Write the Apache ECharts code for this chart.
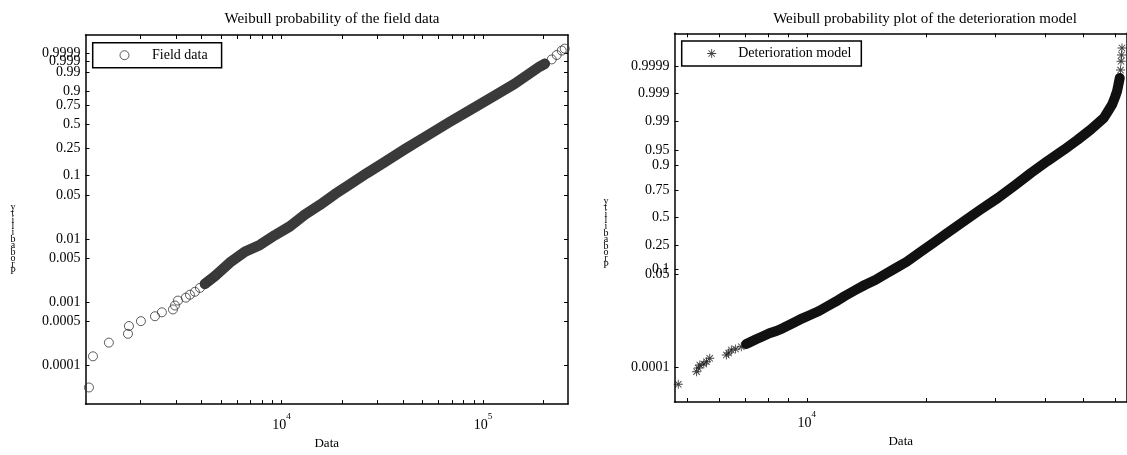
<!DOCTYPE html>
<html><head><meta charset="utf-8">
<script src="https://cdn.jsdelivr.net/npm/echarts@6/dist/echarts.min.js"></script>
<style>html,body{margin:0;padding:0;background:#fff}#c{width:1127px;height:455px}</style>
</head><body><div id="c"></div>
<script>
// ---------- texts ----------
const leftTitle = 'Weibull probability of the field data';
const rightTitle = 'Weibull probability plot of the deterioration model';
const xName = 'Data';
const yName = 'Probability';
const leftLegend = 'Field data';
const rightLegend = 'Deterioration model';

// ---------- left plot (Weibull probability scale) ----------
// listed from the middle outwards so that both crowded labels at the top stay visible
const leftTickLabels = ['0.5','0.75','0.9','0.99','0.999','0.9999','0.0001','0.0005','0.001','0.005','0.01','0.05','0.1','0.25'];
const leftXTicks = [2000,3000,4000,5000,6000,7000,8000,9000,10000,20000,30000,40000,50000,60000,70000,80000,90000,100000,200000];
const leftXLabels = [10000,100000];
// sparse circles (data value, probability)
const fieldX = [1107,1159,1390,1729,1748,2005,2353,2548,2891,2958,3059,3351,3509,3715,3934,4164,4410,4668,202400,219200,232100,245700,254300];
const fieldP = [0.000044,0.000138,0.000228,0.000315,0.000419,0.000501,0.000600,0.000693,0.00077,0.00089,0.001065,0.001186,0.00132,0.00147,0.001696,0.00196,0.00226,0.00261,0.99817,0.99939,0.999833,0.999964,0.999983];
// dense run of overlapping circles
const fieldBandX = [4164,4668,5540,6577,7807,9265,10996,13050,15488,18382,21820,26500,32540,40890,52560,68380,85900,111700,143600,191100,202400];
const fieldBandP = [0.00196,0.00261,0.00429,0.00636,0.00817,0.01166,0.01606,0.02459,0.03498,0.05144,0.07277,0.1078,0.1582,0.2401,0.361,0.527,0.683,0.847,0.9515,0.99665,0.99817];

// ---------- right plot (scale as drawn in the figure) ----------
const rightTickLabels = ['0.5','0.75','0.9','0.95','0.99','0.999','0.9999','0.0001','0.05','0.1','0.25'];
const rightTickValues = [-3.522,-2.469,-1.518,-0.948,0.128,1.208,2.220,-9.210,-5.662,-5.472,-4.560];
const rightXTicks = [5000,6000,7000,8000,9000,10000,20000,30000,40000,50000,60000];
const rightXLabels = [10000];
const modelX = [4734,5266,5321,5367,5493,5578,5686,6262,6346,6447,6609,6830,7030,61740,62020,62200,62370,62550];
const modelY = [-9.856,-9.377,-9.237,-9.123,-9.085,-8.997,-8.868,-8.742,-8.666,-8.552,-8.514,-8.427,-8.324,1.790,2.094,2.425,2.665,2.931];
const modelBandX = [7030,7207,7447,7723,8043,8375,8685,9186,9750,10193,10737,11243,11823,12475,13274,14006,14898,15724,16725,17883,19361,20864,22627,24578,27374,30379,33510,36822,40551,44660,48240,52080,54450,56270,57690,59040,60080,60780,61310,61740];
const modelBandY = [-8.324,-8.248,-8.145,-8.039,-7.917,-7.830,-7.727,-7.545,-7.347,-7.221,-7.069,-6.898,-6.716,-6.499,-6.271,-6.081,-5.891,-5.681,-5.446,-5.195,-4.826,-4.484,-4.104,-3.723,-3.229,-2.773,-2.297,-1.822,-1.366,-0.936,-0.567,-0.176,0.079,0.269,0.535,0.775,1.068,1.284,1.562,1.790];

// ---------- helpers ----------
const FONT = 'Liberation Serif';
const weib = p => Math.log(-Math.log(1 - p));
const leftTickValues = leftTickLabels.map(s => weib(parseFloat(s)));
const lookup = (vals, labels) => v => {
  for (let i = 0; i < vals.length; i++) if (Math.abs(vals[i] - v) < 1e-6) return labels[i];
  return '';
};
const stacked = yName.split('').reverse().join('\n');
const starPath = 'path://M4.5,0 L5.5,0 L5.5,10 L4.5,10 Z M0,4.5 L10,4.5 L10,5.5 L0,5.5 Z M1.1,1.8 L1.8,1.1 L8.9,8.2 L8.2,8.9 Z M8.2,1.1 L8.9,1.8 L1.8,8.9 L1.1,8.2 Z';

const axisLine = {show: true, onZero: false, lineStyle: {color: '#000', width: 1.5}};
function xAx(grid, pos, min, max, ticks, labels, withName) {
  return {
    type: 'log', logBase: 10, gridIndex: grid, position: pos, min: min, max: max,
    axisLine: axisLine,
    axisTick: {show: true, inside: true, length: 4, customValues: ticks, lineStyle: {color: '#000', width: 1}},
    minorTick: {show: false}, splitLine: {show: false},
    axisLabel: labels ? {
      show: true, customValues: labels, margin: 8, color: '#000', hideOverlap: false,
      formatter: v => '{b|10}{s|' + Math.round(Math.log10(v)) + '}',
      rich: {b: {fontFamily: FONT, fontSize: 14, color: '#000', verticalAlign: 'bottom', lineHeight: 20},
             s: {fontFamily: FONT, fontSize: 9, color: '#000', verticalAlign: 'top', lineHeight: 20}}
    } : {show: false},
    name: withName ? xName : '', nameLocation: 'middle', nameGap: 21,
    nameTextStyle: {fontFamily: FONT, fontSize: 13, color: '#000'}
  };
}
function yAx(grid, pos, min, max, vals, labels, ticks) {
  return {
    type: 'value', gridIndex: grid, position: pos, min: min, max: max,
    axisLine: axisLine,
    axisTick: {show: ticks !== false, inside: true, length: 4, customValues: vals, lineStyle: {color: '#000', width: 1}},
    splitLine: {show: false},
    axisLabel: labels ? {
      show: true, customValues: vals, margin: 5, color: '#000', fontFamily: FONT, fontSize: 14,
      hideOverlap: false, showMaxLabel: true, showMinLabel: true,
      formatter: lookup(vals, labels)
    } : {show: false}
  };
}

const xmin0 = 1064, xmax0 = 264000, ymin0 = -10.641, ymax0 = 2.897;
const xmin1 = 4632, xmax1 = 64400, ymin1 = -10.529, ymax1 = 3.490;

const titleStyle = {fontFamily: FONT, fontSize: 15, fontWeight: 'normal', color: '#000'};
const stackStyle = {fontFamily: FONT, fontSize: 10, lineHeight: 6.4, fontWeight: 'normal', color: '#000'};
const option = {
  animation: false,
  backgroundColor: '#fff',
  title: [
    {text: leftTitle, left: 327, top: 7, textAlign: 'center', textStyle: titleStyle},
    {text: rightTitle, left: 920, top: 7, textAlign: 'center', textStyle: titleStyle},
    {text: stacked, left: 8, top: 199, textAlign: 'center', textStyle: stackStyle},
    {text: stacked, left: 601, top: 193, textAlign: 'center', textStyle: stackStyle}
  ],
  legend: [
    {data: [leftLegend], left: 92.7, top: 42.7, icon: 'circle', itemWidth: 9, itemHeight: 9,
     borderColor: '#000', borderWidth: 1.5, padding: [5.5, 14, 5.5, 26.8],
     itemStyle: {color: 'rgba(0,0,0,0)', borderColor: '#333', borderWidth: 1},
     textStyle: {fontFamily: FONT, fontSize: 14, color: '#000', padding: [0, 0, 0, 18]}},
    {data: [rightLegend], left: 681.7, top: 41, icon: starPath, itemWidth: 9, itemHeight: 9,
     borderColor: '#000', borderWidth: 1.5, padding: [5.5, 10, 5.5, 25.5],
     itemStyle: {color: '#111'},
     textStyle: {fontFamily: FONT, fontSize: 14, color: '#000', padding: [0, 0, 0, 17]}}
  ],
  grid: [
    {left: 85.5, top: 35, width: 482.5, height: 378},
    {left: 674.5, top: 33.3, width: 455.5, height: 368.7}
  ],
  xAxis: [
    xAx(0, 'bottom', xmin0, xmax0, leftXTicks, leftXLabels, true),
    xAx(0, 'top', xmin0, xmax0, leftXTicks, null, false),
    xAx(1, 'bottom', xmin1, xmax1, rightXTicks, rightXLabels, true),
    xAx(1, 'top', xmin1, xmax1, rightXTicks, null, false)
  ],
  yAxis: [
    yAx(0, 'left', ymin0, ymax0, leftTickValues, leftTickLabels),
    yAx(0, 'right', ymin0, ymax0, leftTickValues, null),
    yAx(1, 'left', ymin1, ymax1, rightTickValues, rightTickLabels),
    yAx(1, 'right', ymin1, ymax1, rightTickValues, null, false)
  ],
  series: [
    {type: 'line', name: 'fieldBand', xAxisIndex: 0, yAxisIndex: 0, symbol: 'none', silent: true, z: 1,
     lineStyle: {color: '#3a3a3a', width: 10.5, cap: 'round', join: 'round'},
     data: fieldBandX.map((x, i) => [x, weib(fieldBandP[i])])},
    {type: 'scatter', name: leftLegend, xAxisIndex: 0, yAxisIndex: 0, symbol: 'circle', symbolSize: 9, z: 2,
     itemStyle: {color: 'rgba(0,0,0,0)', borderColor: '#333', borderWidth: 1},
     data: fieldX.map((x, i) => [x, weib(fieldP[i])])},
    {type: 'line', name: 'modelBand', xAxisIndex: 2, yAxisIndex: 2, symbol: 'none', silent: true, z: 1,
     lineStyle: {color: '#111', width: 10, cap: 'round', join: 'round'},
     data: modelBandX.map((x, i) => [x, modelBandY[i]])},
    {type: 'scatter', name: rightLegend, xAxisIndex: 2, yAxisIndex: 2, symbol: starPath, symbolSize: 9, z: 2,
     itemStyle: {color: '#111'},
     data: modelX.map((x, i) => [x, modelY[i]])}
  ]
};
const chart = echarts.init(document.getElementById('c'), null, {renderer: 'canvas'});
chart.setOption(option);
</script></body></html>
